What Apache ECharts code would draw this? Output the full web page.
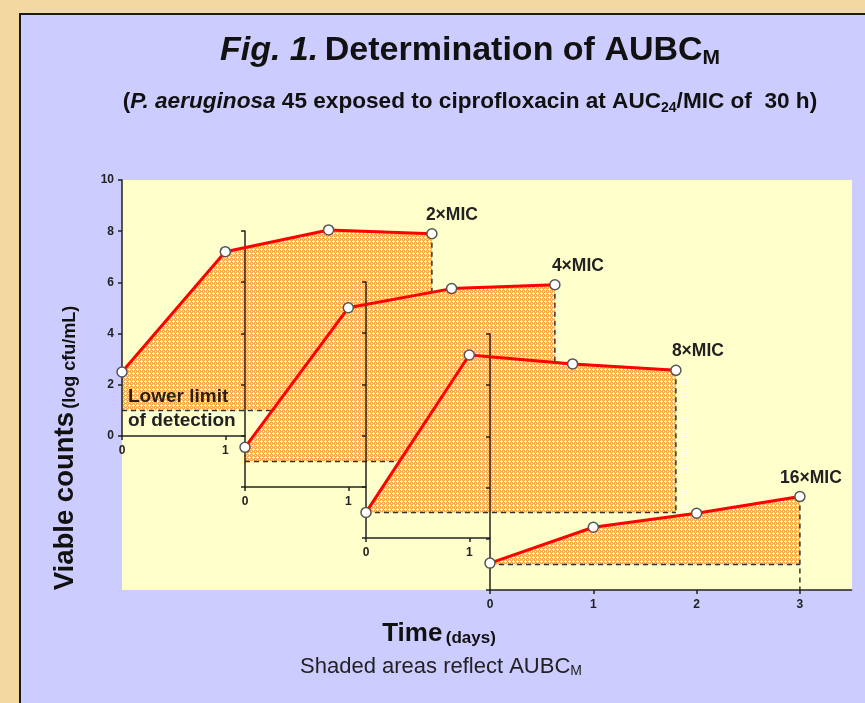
<!DOCTYPE html>
<html>
<head>
<meta charset="utf-8">
<script src="https://cdn.jsdelivr.net/npm/echarts/dist/echarts.min.js"></script>
<style>
  html, body { margin: 0; padding: 0; background: #f1d9a1; }
  #main { width: 865px; height: 703px; }
</style>
</head>
<body>
<div id="main"></div>
<script>
// data (log cfu/mL vs days)
var days = [0, 1, 2, 3];
var mic2 = [2.5, 7.2, 8.05, 7.9];
var mic4 = [1.55, 7.0, 7.75, 7.9];
var mic8 = [1.0, 7.15, 6.8, 6.55];
var mic16 = [1.05, 2.45, 3.0, 3.65];
var seriesNames = ['2×MIC', '4×MIC', '8×MIC', '16×MIC'];
var detectionLimit = 1;
var yMax = 10;
var yStep = 2;
var shortTicks = [0, 1];
var longTicks = [0, 1, 2, 3];

var allValues = [mic2, mic4, mic8, mic16];

// layout of the four staggered panels (pixels)
var origins = [[122, 436], [245, 487], [366, 538], [490, 590]];
var spans = [1.19, 1.17, 1.2, 3.5];
var dataSpan = 3.5;
var dayPx = 103.3;
var panelH = 256;
var dropTo = [detectionLimit, detectionLimit, detectionLimit, 0];
var labelDx = [20, 23, 22, 11];

function hatch() {
    var c = document.createElement('canvas');
    c.width = 4; c.height = 4;
    var g = c.getContext('2d');
    g.fillStyle = '#f9ac4e';
    g.fillRect(0, 0, 4, 4);
    g.fillStyle = '#fff6dc';
    g.fillRect(1, 0, 1, 3);
    g.fillRect(0, 1, 3, 1);
    g.fillRect(3, 3, 1, 1);
    return c;
}
var pattern = { image: hatch(), repeat: 'repeat' };

var chart = echarts.init(document.getElementById('main'));

var grids = [], xAxes = [], yAxes = [], areaSeries = [], lineSeries = [];
var axisColor = '#222';
var tickFont = { fontSize: 12, fontWeight: 'bold', color: '#222', fontFamily: 'Arial' };

origins.forEach(function (o, i) {
    var ticks = i === 3 ? longTicks : shortTicks;
    // visible axes, short
    grids.push({
        left: o[0], top: o[1] - panelH, width: spans[i] * dayPx, height: panelH,
        containLabel: false, outerBoundsMode: 'none'
    });
    xAxes.push({
        gridIndex: 2 * i, type: 'value', min: 0, max: spans[i], z: 5,
        axisLine: { show: true, onZero: false, lineStyle: { color: axisColor, width: 1.5 } },
        axisTick: { show: true, length: 4, customValues: ticks, lineStyle: { color: axisColor, width: 1.5 } },
        axisLabel: Object.assign({ customValues: ticks, margin: 9 }, tickFont),
        splitLine: { show: false }
    });
    yAxes.push({
        gridIndex: 2 * i, type: 'value', min: 0, max: yMax, interval: yStep, z: 5,
        axisLine: { show: true, onZero: false, lineStyle: { color: axisColor, width: 1.5 } },
        axisTick: { show: true, length: 4, lineStyle: { color: axisColor, width: 1.5 } },
        axisLabel: Object.assign({ show: i === 0, margin: 8 }, tickFont),
        splitLine: { show: false }
    });
    // hidden axes spanning the whole curve
    grids.push({
        left: o[0], top: o[1] - panelH, width: dataSpan * dayPx, height: panelH,
        containLabel: false, outerBoundsMode: 'none'
    });
    xAxes.push({ gridIndex: 2 * i + 1, type: 'value', min: 0, max: dataSpan, show: false });
    yAxes.push({ gridIndex: 2 * i + 1, type: 'value', min: 0, max: yMax, show: false });

    var ax = 2 * i + 1;
    var vals = allValues[i];
    var pts = days.map(function (d, k) { return [d, vals[k]]; });
    var last = days.length - 1;
    var zFill = 1 + i;   // later panels cover earlier ones

    areaSeries.push({
        type: 'line', xAxisIndex: ax, yAxisIndex: ax, data: pts, silent: true,
        symbol: 'none', z: zFill, lineStyle: { width: 0 },
        areaStyle: { origin: detectionLimit, color: pattern, opacity: 1 }
    });
    areaSeries.push({
        type: 'line', xAxisIndex: ax, yAxisIndex: ax, silent: true,
        data: [[days[0], detectionLimit], [days[last], detectionLimit]],
        symbol: 'none', z: zFill, lineStyle: { color: '#333', width: 1.5, type: [5, 4] }
    });
    areaSeries.push({
        type: 'line', xAxisIndex: ax, yAxisIndex: ax, silent: true,
        data: [[days[last], vals[last]], [days[last], dropTo[i]]],
        symbol: 'none', z: zFill, lineStyle: { color: '#333', width: 1.5, type: [5, 4] }
    });

    lineSeries.push({
        name: seriesNames[i], type: 'line', xAxisIndex: ax, yAxisIndex: ax, clip: false, z: 8,
        data: pts.map(function (p, k) {
            if (k !== last) return p;
            return {
                value: p,
                label: {
                    show: true, position: 'top', distance: 4, offset: [labelDx[i], 0],
                    formatter: seriesNames[i], fontSize: 17.5, fontWeight: 'bold',
                    color: '#222', fontFamily: 'Arial'
                }
            };
        }),
        symbol: 'circle', symbolSize: 10,
        lineStyle: { color: '#ff0000', width: 3 },
        itemStyle: { color: '#ffffff', borderColor: '#555', borderWidth: 1.5 }
    });
});

function centred(extra) {
    return Object.assign({
        align: 'center', verticalAlign: 'middle', textAlign: 'center', textVerticalAlign: 'middle'
    }, extra);
}

var option = {
    animation: false,
    backgroundColor: 'transparent',
    grid: grids,
    xAxis: xAxes,
    yAxis: yAxes,
    graphic: [
        { type: 'rect', z: -10, silent: true, shape: { x: 20, y: 14, width: 900, height: 760 },
          style: { fill: '#ccccff', stroke: '#1a1a1a', lineWidth: 2 } },
        { type: 'rect', z: -9, silent: true, shape: { x: 122, y: 180, width: 730, height: 410 },
          style: { fill: '#ffffcc' } },
        { type: 'text', z: 10, x: 470, y: 51, silent: true,
          style: centred({
              text: '{i|Fig. 1.}  {b|Determination of AUBC}{s|M}',
              fill: '#111',
              rich: {
                  i: { fontSize: 34, fontWeight: 'bold', fontStyle: 'italic', fontFamily: 'Arial', lineHeight: 36 },
                  b: { fontSize: 34, fontWeight: 'bold', fontFamily: 'Arial', lineHeight: 36 },
                  s: { fontSize: 21, fontWeight: 'bold', fontFamily: 'Arial', lineHeight: 20, verticalAlign: 'bottom' }
              }
          }) },
        { type: 'text', z: 10, x: 470, y: 102, silent: true,
          style: centred({
              text: '({i|P. aeruginosa} 45 exposed to ciprofloxacin at AUC{s|24}/MIC of  30 h)',
              fill: '#111', fontSize: 22.6, fontWeight: 'bold', fontFamily: 'Arial',
              rich: {
                  i: { fontSize: 22.6, fontWeight: 'bold', fontStyle: 'italic', fontFamily: 'Arial', lineHeight: 26 },
                  s: { fontSize: 14, fontWeight: 'bold', fontFamily: 'Arial', lineHeight: 14, verticalAlign: 'bottom' }
              }
          }) },
        { type: 'text', z: 10, x: 64, y: 448, rotation: Math.PI / 2, silent: true,
          style: centred({
              text: '{a|Viable counts} {b|(log cfu/mL)}',
              fill: '#111',
              rich: {
                  a: { fontSize: 27.5, fontWeight: 'bold', fontFamily: 'Arial', lineHeight: 30, verticalAlign: 'bottom' },
                  b: { fontSize: 18, fontWeight: 'bold', fontFamily: 'Arial', lineHeight: 25, verticalAlign: 'bottom' }
              }
          }) },
        { type: 'text', z: 10, x: 439, y: 632, silent: true,
          style: centred({
              text: '{a|Time} {b|(days)}',
              fill: '#111',
              rich: {
                  a: { fontSize: 26, fontWeight: 'bold', fontFamily: 'Arial', lineHeight: 30, verticalAlign: 'bottom' },
                  b: { fontSize: 17, fontWeight: 'bold', fontFamily: 'Arial', lineHeight: 24, verticalAlign: 'bottom' }
              }
          }) },
        { type: 'text', z: 10, x: 441, y: 667, silent: true,
          style: centred({
              text: 'Shaded areas reflect AUBC{s|M}',
              fill: '#222', fontSize: 22, fontFamily: 'Arial',
              rich: {
                  s: { fontSize: 14, fontFamily: 'Arial', lineHeight: 14, verticalAlign: 'bottom' }
              }
          }) },
        { type: 'text', z: 10, x: 128, y: 397, silent: true,
          style: { text: 'Lower limit', fill: '#222', fontSize: 19, fontWeight: 'bold', fontFamily: 'Arial',
                   align: 'left', verticalAlign: 'middle', textAlign: 'left', textVerticalAlign: 'middle' } },
        { type: 'text', z: 10, x: 128, y: 421, silent: true,
          style: { text: 'of detection', fill: '#222', fontSize: 19, fontWeight: 'bold', fontFamily: 'Arial',
                   align: 'left', verticalAlign: 'middle', textAlign: 'left', textVerticalAlign: 'middle' } }
    ],
    series: areaSeries.concat(lineSeries)
};

chart.setOption(option);
</script>
</body>
</html>
